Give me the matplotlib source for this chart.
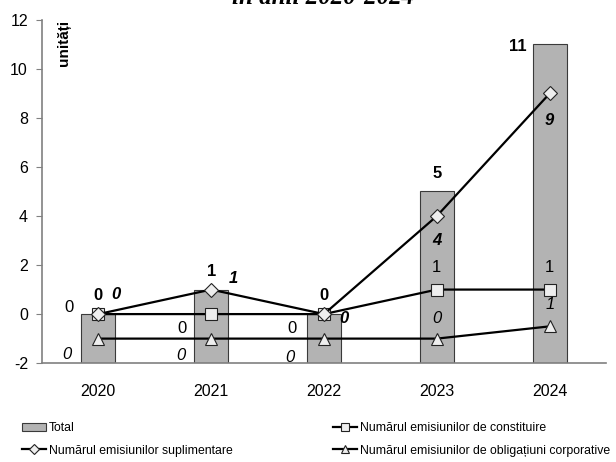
import matplotlib
matplotlib.use("Agg")
import matplotlib.pyplot as plt
import numpy as np
from matplotlib.lines import Line2D
from matplotlib.patches import Patch

years = ["2020", "2021", "2022", "2023", "2024"]
total = [0, 1, 0, 5, 11]
constituire = [0, 0, 0, 1, 1]
suplimentare = [0, 1, 0, 4, 9]
obligatiuni = [0, 0, 0, 0, 1]

labels = [
    "Total",
    "Numărul emisiunilor de constituire",
    "Numărul emisiunilor suplimentare",
    "Numărul emisiunilor de obligațiuni corporative",
]

plt.rcParams["font.family"] = ["Liberation Sans", "DejaVu Sans"]
plt.rcParams["axes.unicode_minus"] = False

YMIN, YMAX = -2, 12
x = np.arange(len(years))

fig = plt.figure(figsize=(6.16, 4.62), dpi=100)
ax = fig.add_axes([0.068, 0.214, 0.916, 0.743])

ax.bar(x, np.array(total) - YMIN, bottom=YMIN, width=0.3,
       color="#b3b3b3", edgecolor="#3a3a3a", linewidth=0.8, zorder=1)

mk = dict(color="black", linewidth=1.6, markerfacecolor="#eeeeee",
          markeredgecolor="#222222", markeredgewidth=0.8, zorder=3)
ax.plot(x, constituire, marker="s", markersize=9, **mk)
ax.plot(x, suplimentare, marker="D", markersize=7, **mk)

# corporate bonds sit on a hidden secondary scale, as in the source chart
ax2 = ax.twinx()
ax2.set_ylim(-2, 26)
ax2.plot(x, obligatiuni, marker="^", markersize=9, **mk)
ax2.axis("off")

ax.set_xlim(-0.5, len(years) - 0.5)
ax.set_ylim(YMIN, YMAX)
ax.set_yticks(np.arange(YMIN, YMAX + 1, 2))
ax.set_xticks(x)
ax.set_xticklabels(years)
ax.tick_params(axis="x", length=0, pad=15, labelsize=11.5)
ax.tick_params(axis="y", length=4, width=0.8, color="#808080", pad=6, labelsize=11.5)
for s in ["top", "right"]:
    ax.spines[s].set_visible(False)
for s in ["left", "bottom"]:
    ax.spines[s].set_color("#808080")
    ax.spines[s].set_linewidth(1.2)

ax.text(0.04, 1.0, "unități", transform=ax.transAxes, rotation=90,
        ha="center", va="top", fontsize=11, fontweight="bold")

# data labels
lbl = dict(fontsize=12, ha="center", va="center")
for i, v in enumerate(total):
    if i == len(total) - 1:
        ax.text(i - 0.28, v - 0.1, str(v), fontweight="bold", **lbl)
    else:
        ax.text(i, v + 0.75, str(v), fontweight="bold", **lbl)

const_off = [(-0.26, 0.25), (-0.26, -0.6), (-0.28, -0.6), (0, 0.9), (0, 0.9)]
for i, v in enumerate(constituire):
    dx, dy = const_off[i]
    ax.text(i + dx, v + dy, str(v), **lbl)

supl_off = [(0.16, 0.8), (0.2, 0.45), (0.18, -0.2), (0, -1.0), (0, -1.1)]
for i, v in enumerate(suplimentare):
    dx, dy = supl_off[i]
    ax.text(i + dx, v + dy, str(v), fontweight="bold", fontstyle="italic", **lbl)

obl_off = [(-0.28, -1.3), (-0.27, -1.4), (-0.3, -1.5), (0, 1.6), (0, 1.75)]
for i, v in enumerate(obligatiuni):
    dx, dy = obl_off[i]
    ax2.text(i + dx, v + dy, str(v), fontstyle="italic", **lbl)

# title sits mostly above the visible area, as in the reference crop
fig.text(0.525, 1 - 4 / 462, "în anii 2020-2024", family="Liberation Serif",
         fontstyle="italic", fontweight="bold", fontsize=18, ha="center", va="baseline")

h_total = Patch(facecolor="#b3b3b3", edgecolor="#3a3a3a", linewidth=0.8)
h_supl = Line2D([], [], marker="D", markersize=5, **mk)
h_const = Line2D([], [], marker="s", markersize=6, **mk)
h_obl = Line2D([], [], marker="^", markersize=6, **mk)

leg_kw = dict(loc="upper left", frameon=False, fontsize=8.8, handlelength=2.0,
              handletextpad=0.2, labelspacing=0.85, borderaxespad=0, borderpad=0)
fig.legend([h_total, h_supl], [labels[0], labels[2]],
           bbox_to_anchor=(22 / 616, 0.086), **leg_kw)
fig.legend([h_const, h_obl], [labels[1], labels[3]],
           bbox_to_anchor=(333 / 616, 0.086), **leg_kw)

fig.savefig("out.png", dpi=100)
